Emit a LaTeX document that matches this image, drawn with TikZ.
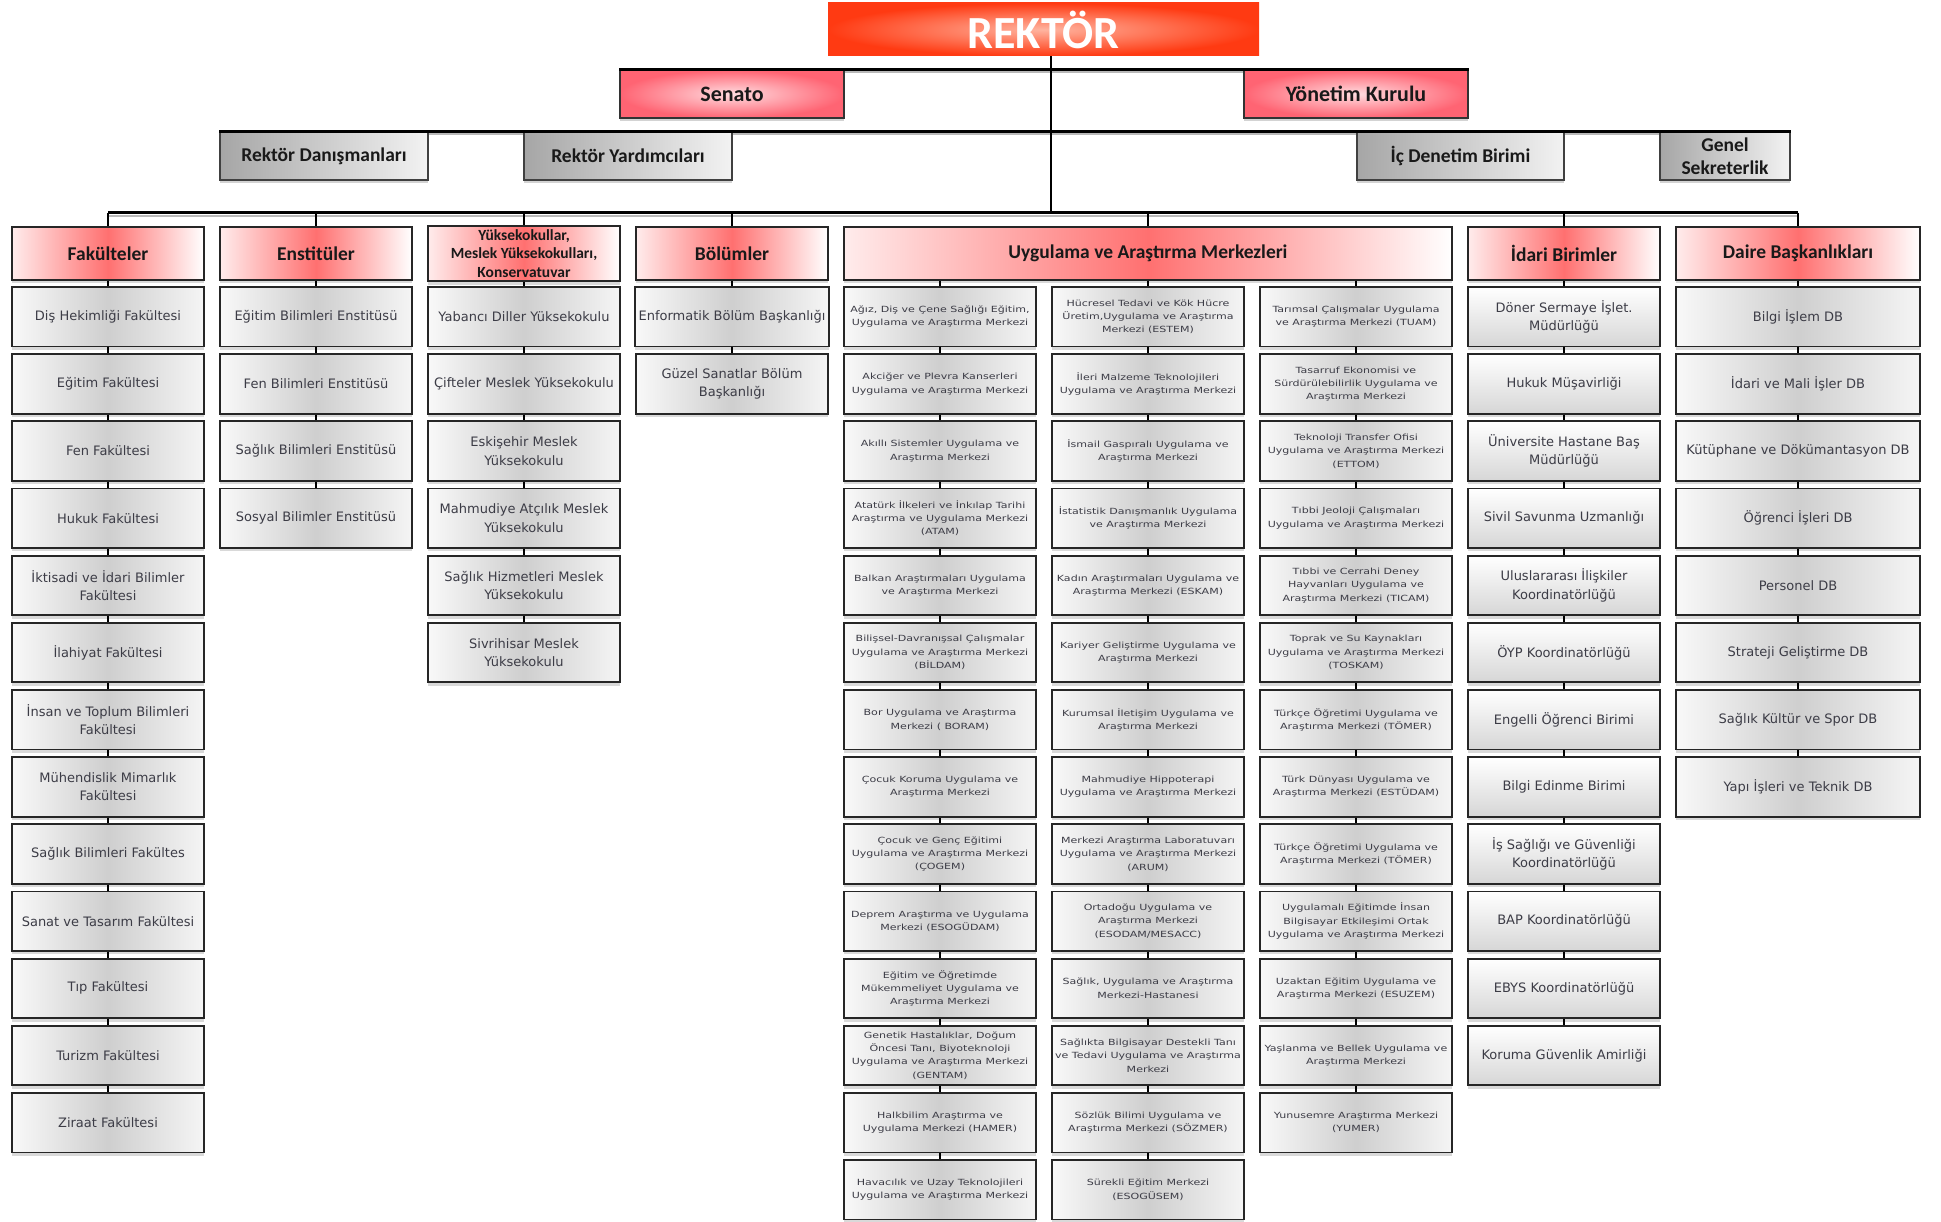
\documentclass[tikz,border=0pt]{standalone}
\usepackage{fontspec}
\newfontfamily\hdfont{Carlito}
\newfontfamily\bdfont{DejaVu Sans}
\newfontfamily\uyfont[FakeStretch=1.3]{DejaVu Sans}
\usetikzlibrary{shadows,backgrounds}
\definecolor{txt}{RGB}{60,60,70}
\definecolor{pinkL}{RGB}{255,236,236}
\definecolor{pinkM}{RGB}{255,112,112}
\definecolor{senIn}{RGB}{255,220,224}
\definecolor{senOut}{RGB}{255,100,115}
\definecolor{rekIn}{RGB}{255,180,160}
\definecolor{rekOut}{RGB}{255,58,18}
\begin{document}
\begin{tikzpicture}[x=1pt,y=-1pt,
  cbox/.style={draw=black!85, line width=1.8pt, minimum width=192pt, minimum height=59.5pt,
    align=center, text=txt, font=\bdfont\fontsize{13}{18.3}\selectfont,
    drop shadow={shadow xshift=0pt, shadow yshift=-3.5pt, opacity=.3}},
  fbox/.style={cbox, left color=gray!5, right color=gray!8, middle color=gray!38},
  uybox/.style={fbox, font=\uyfont\fontsize{8.5}{13.3}\selectfont},
  idbox/.style={cbox, top color=white, bottom color=gray!32},
  dbox/.style={fbox, minimum width=244pt},
  hdr/.style={draw=black!85, line width=1.8pt, minimum width=192pt, minimum height=53pt,
    align=center, text=black!90, font=\hdfont\bfseries\fontsize{19.5}{22}\selectfont,
    left color=pinkL, right color=white, middle color=pinkM,
    drop shadow={shadow xshift=0pt, shadow yshift=-3.5pt, opacity=.3}},
  topbox/.style={draw=black!80, line width=1.5pt, minimum width=224pt, minimum height=48pt,
    align=center, text=black!90, font=\hdfont\bfseries\fontsize{22}{24}\selectfont,
    shading=radial, inner color=senIn, outer color=senOut,
    drop shadow={shadow xshift=0pt, shadow yshift=-3pt, opacity=.35}},
  graybox/.style={draw=black!75, line width=1.5pt, minimum height=48pt,
    align=center, text=black!90, font=\hdfont\bfseries\fontsize{19.5}{23}\selectfont,
    left color=black!35, right color=black!5,
    drop shadow={shadow xshift=0pt, shadow yshift=-3pt, opacity=.35}},
  rekbox/.style={draw=none, minimum width=431pt, minimum height=53pt,
    text=white, font=\hdfont\bfseries\fontsize{46}{46}\selectfont,
    shading=radial, inner color=rekIn, outer color=rekOut},
  bar/.style={line width=3pt, black},
  barsh/.style={line width=2.5pt, gray!55},
  conn/.style={line width=2pt, black}
]
\useasboundingbox (0,0) rectangle (1941,1222);

% ---- top levels
\node[rekbox] (rektor) at (1043.5,29.5) {REKTÖR};
\node[topbox] (senato) at (732,94) {Senato};
\node[topbox] (yonetim) at (1356,94) {Yönetim Kurulu};
\node[graybox, minimum width=208pt] (rdan) at (324,156) {Rektör Danışmanları};
\node[graybox, minimum width=208pt] (ryar) at (628,156) {Rektör Yardımcıları};
\node[graybox, minimum width=207pt] (icden) at (1460.5,156) {İç Denetim Birimi};
\node[graybox, minimum width=130pt] (gensek) at (1725,156) {Genel\\Sekreterlik};

% ---- column headers
\node[hdr] (fakh) at (108,253.5) {Fakülteler};
\node[hdr] (ensh) at (316,253.5) {Enstitüler};
\node[hdr, font=\hdfont\bfseries\fontsize{15.5}{18.7}\selectfont] (yukh) at (524,253.5) {Yüksekokullar,\\Meslek Yüksekokulları,\\Konservatuvar};
\node[hdr] (bolh) at (732,253.5) {Bölümler};
\node[hdr, minimum width=608pt] (uyh) at (1148,253.5) {Uygulama ve Araştırma Merkezleri};
\node[hdr] (idh) at (1564,253.5) {İdari Birimler};
\node[hdr, minimum width=244pt] (daih) at (1798,253.5) {Daire Başkanlıkları};

% ---- Fakülteler
\foreach \t [count=\i] in {{Diş Hekimliği Fakültesi},{Eğitim Fakültesi},{Fen Fakültesi},{Hukuk Fakültesi},
  {İktisadi ve İdari Bilimler\\Fakültesi},{İlahiyat Fakültesi},{İnsan ve Toplum Bilimleri\\Fakültesi},
  {Mühendislik Mimarlık\\Fakültesi},{Sağlık Bilimleri Fakültes},{Sanat ve Tasarım Fakültesi},
  {Tıp Fakültesi},{Turizm Fakültesi},{Ziraat Fakültesi}}
  \node[fbox] (fak\i) at (108,{316.75+67.16*(\i-1)}) {\t};

% ---- Enstitüler
\foreach \t [count=\i] in {{Eğitim Bilimleri Enstitüsü},{Fen Bilimleri Enstitüsü},{Sağlık Bilimleri Enstitüsü},{Sosyal Bilimler Enstitüsü}}
  \node[fbox] (ens\i) at (316,{316.75+67.16*(\i-1)}) {\t};

% ---- Yüksekokullar
\foreach \t [count=\i] in {{Yabancı Diller Yüksekokulu},{Çifteler Meslek Yüksekokulu},{Eskişehir Meslek\\Yüksekokulu},
  {Mahmudiye Atçılık Meslek\\Yüksekokulu},{Sağlık Hizmetleri Meslek\\Yüksekokulu},{Sivrihisar Meslek\\Yüksekokulu}}
  \node[fbox] (yuk\i) at (524,{316.75+67.16*(\i-1)}) {\t};

% ---- Bölümler
\foreach \t [count=\i] in {{Enformatik Bölüm Başkanlığı},{Güzel Sanatlar Bölüm\\Başkanlığı}}
  \node[fbox] (bol\i) at (732,{316.75+67.16*(\i-1)}) {\t};

% ---- Uygulama ve Araştırma Merkezleri
\foreach \t [count=\i] in {{Ağız, Diş ve Çene Sağlığı Eğitim,\\Uygulama ve Araştırma Merkezi},
  {Akciğer ve Plevra Kanserleri\\Uygulama ve Araştırma Merkezi},
  {Akıllı Sistemler Uygulama ve\\Araştırma Merkezi},
  {Atatürk İlkeleri ve İnkılap Tarihi\\Araştırma ve Uygulama Merkezi\\(ATAM)},
  {Balkan Araştırmaları Uygulama\\ve Araştırma Merkezi},
  {Bilişsel-Davranışsal Çalışmalar\\Uygulama ve Araştırma Merkezi\\(BİLDAM)},
  {Bor Uygulama ve Araştırma\\Merkezi ( BORAM)},
  {Çocuk Koruma Uygulama ve\\Araştırma Merkezi},
  {Çocuk ve Genç Eğitimi\\Uygulama ve Araştırma Merkezi\\(ÇOGEM)},
  {Deprem Araştırma ve Uygulama\\Merkezi (ESOGÜDAM)},
  {Eğitim ve Öğretimde\\Mükemmeliyet Uygulama ve\\Araştırma Merkezi},
  {Genetik Hastalıklar, Doğum\\Öncesi Tanı, Biyoteknoloji\\Uygulama ve Araştırma Merkezi\\(GENTAM)},
  {Halkbilim Araştırma ve\\Uygulama Merkezi (HAMER)},
  {Havacılık ve Uzay Teknolojileri\\Uygulama ve Araştırma Merkezi}}
  \node[uybox] (ua\i) at (940,{316.75+67.16*(\i-1)}) {\t};

\foreach \t [count=\i] in {{Hücresel Tedavi ve Kök Hücre\\Üretim,Uygulama ve Araştırma\\Merkezi (ESTEM)},
  {İleri Malzeme Teknolojileri\\Uygulama ve Araştırma Merkezi},
  {İsmail Gaspıralı Uygulama ve\\Araştırma Merkezi},
  {İstatistik Danışmanlık Uygulama\\ve Araştırma Merkezi},
  {Kadın Araştırmaları Uygulama ve\\Araştırma Merkezi (ESKAM)},
  {Kariyer Geliştirme Uygulama ve\\Araştırma Merkezi},
  {Kurumsal İletişim Uygulama ve\\Araştırma Merkezi},
  {Mahmudiye Hippoterapi\\Uygulama ve Araştırma Merkezi},
  {Merkezi Araştırma Laboratuvarı\\Uygulama ve Araştırma Merkezi\\(ARUM)},
  {Ortadoğu Uygulama ve\\Araştırma Merkezi\\(ESODAM/MESACC)},
  {Sağlık, Uygulama ve Araştırma\\Merkezi-Hastanesi},
  {Sağlıkta Bilgisayar Destekli Tanı\\ve Tedavi Uygulama ve Araştırma\\Merkezi},
  {Sözlük Bilimi Uygulama ve\\Araştırma Merkezi (SÖZMER)},
  {Sürekli Eğitim Merkezi\\(ESOGÜSEM)}}
  \node[uybox] (ub\i) at (1148,{316.75+67.16*(\i-1)}) {\t};

\foreach \t [count=\i] in {{Tarımsal Çalışmalar Uygulama\\ve Araştırma Merkezi (TUAM)},
  {Tasarruf Ekonomisi ve\\Sürdürülebilirlik Uygulama ve\\Araştırma Merkezi},
  {Teknoloji Transfer Ofisi\\Uygulama ve Araştırma Merkezi\\(ETTOM)},
  {Tıbbi Jeoloji Çalışmaları\\Uygulama ve Araştırma Merkezi},
  {Tıbbi ve Cerrahi Deney\\Hayvanları Uygulama ve\\Araştırma Merkezi (TICAM)},
  {Toprak ve Su Kaynakları\\Uygulama ve Araştırma Merkezi\\(TOSKAM)},
  {Türkçe Öğretimi Uygulama ve\\Araştırma Merkezi (TÖMER)},
  {Türk Dünyası Uygulama ve\\Araştırma Merkezi (ESTÜDAM)},
  {Türkçe Öğretimi Uygulama ve\\Araştırma Merkezi (TÖMER)},
  {Uygulamalı Eğitimde İnsan\\Bilgisayar Etkileşimi Ortak\\Uygulama ve Araştırma Merkezi},
  {Uzaktan Eğitim Uygulama ve\\Araştırma Merkezi (ESUZEM)},
  {Yaşlanma ve Bellek Uygulama ve\\Araştırma Merkezi},
  {Yunusemre Araştırma Merkezi\\(YUMER)}}
  \node[uybox] (uc\i) at (1356,{316.75+67.16*(\i-1)}) {\t};

% ---- İdari Birimler
\foreach \t [count=\i] in {{Döner Sermaye İşlet.\\Müdürlüğü},{Hukuk Müşavirliği},{Üniversite Hastane Baş\\Müdürlüğü},
  {Sivil Savunma Uzmanlığı},{Uluslararası İlişkiler\\Koordinatörlüğü},{ÖYP Koordinatörlüğü},
  {Engelli Öğrenci Birimi},{Bilgi Edinme Birimi},{İş Sağlığı ve Güvenliği\\Koordinatörlüğü},
  {BAP Koordinatörlüğü},{EBYS Koordinatörlüğü},{Koruma Güvenlik Amirliği}}
  \node[idbox] (id\i) at (1564,{316.75+67.16*(\i-1)}) {\t};

% ---- Daire Başkanlıkları
\foreach \t [count=\i] in {{Bilgi İşlem DB},{İdari ve Mali İşler DB},{Kütüphane ve Dökümantasyon DB},{Öğrenci İşleri DB},
  {Personel DB},{Strateji Geliştirme DB},{Sağlık Kültür ve Spor DB},{Yapı İşleri ve Teknik DB}}
  \node[dbox] (dai\i) at (1798,{316.75+67.16*(\i-1)}) {\t};

% ---- connectors
\coordinate (spine) at (1051,213);
\begin{scope}[on background layer]
  \draw[barsh] ([yshift=-3pt]senato.north west) -- ([yshift=-3pt]yonetim.north east);
  \draw[barsh] ([yshift=-3pt]rdan.north west) -- ([yshift=-3pt]gensek.north east);
  \draw[barsh] ([yshift=-3pt]fakh.north |- spine) -- ([yshift=-3pt]daih.north |- spine);
\end{scope}
\draw[conn] (rektor.south -| spine) -- (spine);
\draw[bar] (senato.north west) -- (yonetim.north east);
\draw[bar] (rdan.north west) -- (gensek.north east);
\draw[bar] (fakh.north |- spine) -- (daih.north |- spine);
\foreach \n in {fakh,ensh,yukh,bolh,uyh,idh,daih}
  \draw[conn] (\n.north |- spine) -- (\n);

\draw[conn] (fakh) -- (fak1);
\foreach \i [count=\j from 2] in {1,...,12} \draw[conn] (fak\i) -- (fak\j);
\draw[conn] (ensh) -- (ens1);
\foreach \i [count=\j from 2] in {1,...,3} \draw[conn] (ens\i) -- (ens\j);
\draw[conn] (yukh) -- (yuk1);
\foreach \i [count=\j from 2] in {1,...,5} \draw[conn] (yuk\i) -- (yuk\j);
\draw[conn] (bolh) -- (bol1);
\draw[conn] (bol1) -- (bol2);
\draw[conn] (uyh.south -| ua1) -- (ua1);
\draw[conn] (uyh.south -| ub1) -- (ub1);
\draw[conn] (uyh.south -| uc1) -- (uc1);
\foreach \i [count=\j from 2] in {1,...,13} \draw[conn] (ua\i) -- (ua\j);
\foreach \i [count=\j from 2] in {1,...,13} \draw[conn] (ub\i) -- (ub\j);
\foreach \i [count=\j from 2] in {1,...,12} \draw[conn] (uc\i) -- (uc\j);
\draw[conn] (idh) -- (id1);
\foreach \i [count=\j from 2] in {1,...,11} \draw[conn] (id\i) -- (id\j);
\draw[conn] (daih) -- (dai1);
\foreach \i [count=\j from 2] in {1,...,7} \draw[conn] (dai\i) -- (dai\j);
\end{tikzpicture}
\end{document}
